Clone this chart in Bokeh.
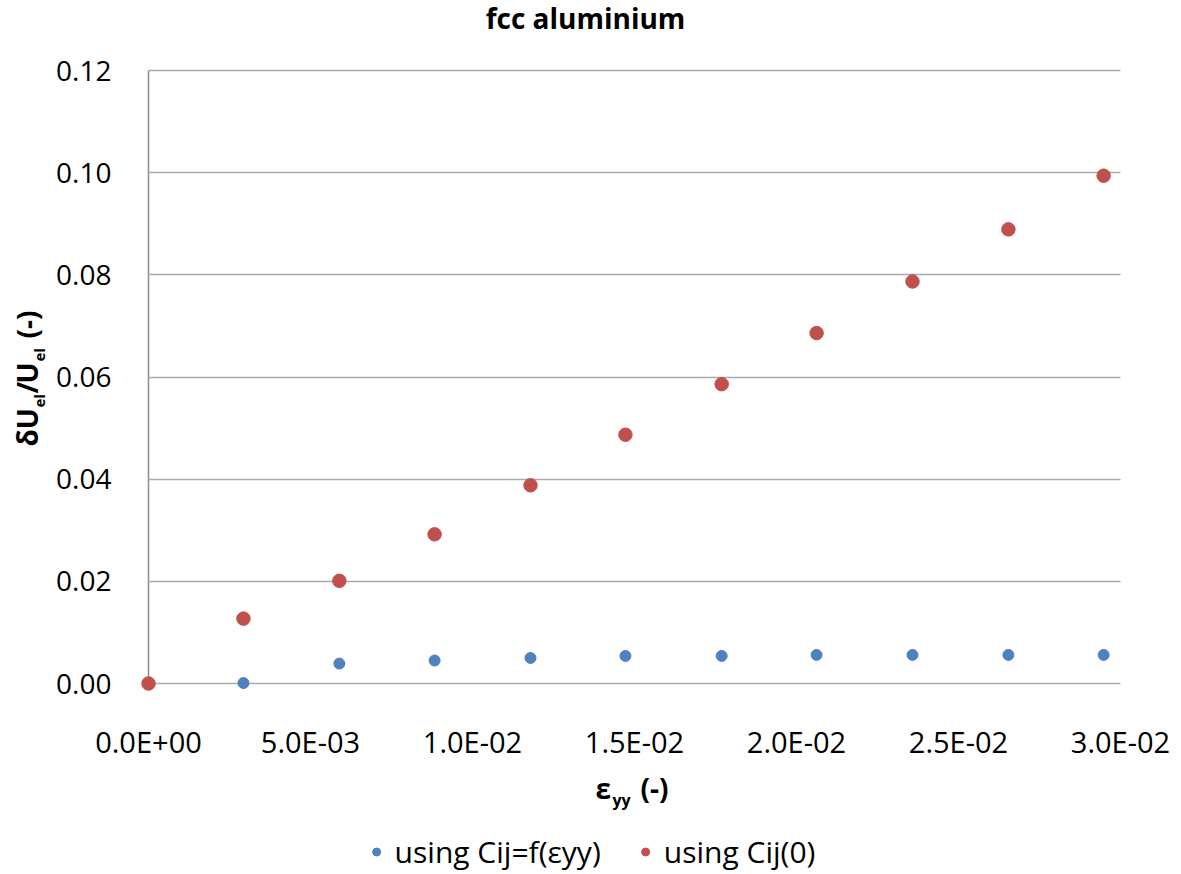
import numpy as np
from bokeh.plotting import figure
from bokeh.models import (Range1d, FixedTicker, NumeralTickFormatter, Label,
                          Legend, LegendItem, Grid)
from bokeh.embed import file_html
from bokeh.resources import INLINE

# Strain steps (eps_yy) and relative elastic energy error for fcc aluminium
strain = [0.0, 0.00293, 0.00589, 0.00883, 0.01179, 0.01472,
          0.01769, 0.02062, 0.02358, 0.02654, 0.02948]
# using Cij = f(eps_yy)  (first strain step has no value)
du_cij_f = [0.0001, 0.0039, 0.0045, 0.0050, 0.0054,
            0.0054, 0.0056, 0.0056, 0.0056, 0.0056]
# using Cij(0)
du_cij_0 = [0.0, 0.0127, 0.0201, 0.0292, 0.0388, 0.0487,
            0.0586, 0.0686, 0.0787, 0.0889, 0.0994]

x_ticks = [0.0, 0.005, 0.01, 0.015, 0.02, 0.025, 0.03]
x_tick_labels = ["0.0E+00", "5.0E-03", "1.0E-02", "1.5E-02",
                 "2.0E-02", "2.5E-02", "3.0E-02"]
y_ticks = [0.0, 0.02, 0.04, 0.06, 0.08, 0.10, 0.12]

BLUE = "#4F81BD"
RED = "#C0504D"
GRID = "#ababab"
FONT = "Open Sans"

# Canvas layout: the frame fills the whole canvas, and the data box
# [0, 0.03] x [0, 0.12] sits at pixels x 148..1120, y 70..683.
W, H = 1181, 874
DL, DR, DT, DB = 148, 1120, 70, 683
kx = (DR - DL) / (x_ticks[-1] - x_ticks[0])
ky = (DB - DT) / (y_ticks[-1] - y_ticks[0])
X0, X1 = -DL / kx, x_ticks[-1] + (W - DR) / kx
Y0, Y1 = -(H - DB) / ky, y_ticks[-1] + DT / ky


def sx(px):
    return X0 + px / kx


def sy(py):
    return Y0 + (H - py) / ky


p = figure(width=W, height=H, x_range=Range1d(X0, X1), y_range=Range1d(Y0, Y1),
           output_backend="svg", toolbar_location=None,
           min_border_left=0, min_border_right=0,
           min_border_top=0, min_border_bottom=0,
           outline_line_color=None)

# horizontal grid lines over the data box only
p.xgrid.visible = False
p.ygrid.ticker = FixedTicker(ticks=y_ticks)
p.ygrid.grid_line_color = GRID
p.ygrid.grid_line_width = 1.6
if "cross_bounds" in Grid.properties():
    p.ygrid.cross_bounds = (x_ticks[0], x_ticks[-1])
else:
    p.ygrid.visible = False
    n = len(y_ticks)
    p.segment(x0=[x_ticks[0]] * n, y0=y_ticks, x1=[x_ticks[-1]] * n, y1=y_ticks,
              line_color=GRID, line_width=1.6, level="underlay")

# y axis drawn at x = 0
p.yaxis.fixed_location = 0
p.yaxis.bounds = (y_ticks[0], y_ticks[-1])
p.yaxis.ticker = FixedTicker(ticks=y_ticks)
p.yaxis.formatter = NumeralTickFormatter(format="0.00")
p.yaxis.axis_line_color = "#8c8c8c"
p.yaxis.axis_line_width = 1.5
p.yaxis.major_tick_line_color = None
p.yaxis.minor_tick_line_color = None
p.yaxis.major_label_standoff = 31
p.yaxis.major_label_text_font = FONT
p.yaxis.major_label_text_font_size = "28px"
p.yaxis.major_label_text_color = "black"
p.yaxis.level = "underlay"

# x axis drawn at y = 0 (the zero grid line doubles as its line)
p.xaxis.fixed_location = 0
p.xaxis.ticker = FixedTicker(ticks=x_ticks)
p.xaxis.major_label_overrides = dict(zip(x_ticks, x_tick_labels))
p.xaxis.axis_line_color = None
p.xaxis.major_tick_line_color = None
p.xaxis.minor_tick_line_color = None
p.xaxis.major_label_standoff = 32
p.xaxis.major_label_text_font = FONT
p.xaxis.major_label_text_font_size = "29px"
p.xaxis.major_label_text_color = "black"

r_f = p.scatter(strain[1:], du_cij_f, size=11, color=BLUE, line_color=BLUE)
r_0 = p.scatter(strain, du_cij_0, size=13.5, color=RED, line_color=RED)

legend = Legend(items=[LegendItem(label="using Cij=f(εyy)", renderers=[r_f]),
                       LegendItem(label="using Cij(0)", renderers=[r_0])],
                orientation="horizontal", location="bottom_center",
                border_line_color=None, background_fill_alpha=0,
                padding=0, margin=2, spacing=34, label_standoff=9,
                glyph_width=20, glyph_height=25,
                label_text_font=FONT, label_text_font_size="30px",
                label_text_color="black")
p.add_layout(legend)


def add_text(txt, px, py, size, angle=0.0, align="left"):
    # (px, py) is the wanted baseline start; nudge against the renderer's
    # baseline placement, which sits about a third of an em low
    lift = 0.36 * size
    if angle:
        px -= lift
    else:
        py -= lift
    p.add_layout(Label(x=sx(px), y=sy(py), text=txt, angle=angle,
                       text_font=FONT, text_font_style="bold",
                       text_font_size=f"{size}px", text_color="black",
                       text_align=align, text_baseline="alphabetic"))


# chart title
add_text("fcc aluminium", 585, 28, 28, align="center")

# x-axis title: eps_yy (-)
add_text("ε", 595, 798, 28)
add_text("yy", 612, 805, 16)
add_text("(-)", 640, 798, 28)

# y-axis title: dU_el/U_el (-), rotated
up = np.pi / 2
add_text("δU", 37, 446, 28, up)
add_text("el", 44, 407, 15, up)
add_text("/", 37, 393, 28, up)
add_text("U", 37, 383, 28, up)
add_text("el", 44, 361, 15, up)
add_text("(-)", 37, 338, 28, up)

open("out.html", "w").write(file_html(p, INLINE))
